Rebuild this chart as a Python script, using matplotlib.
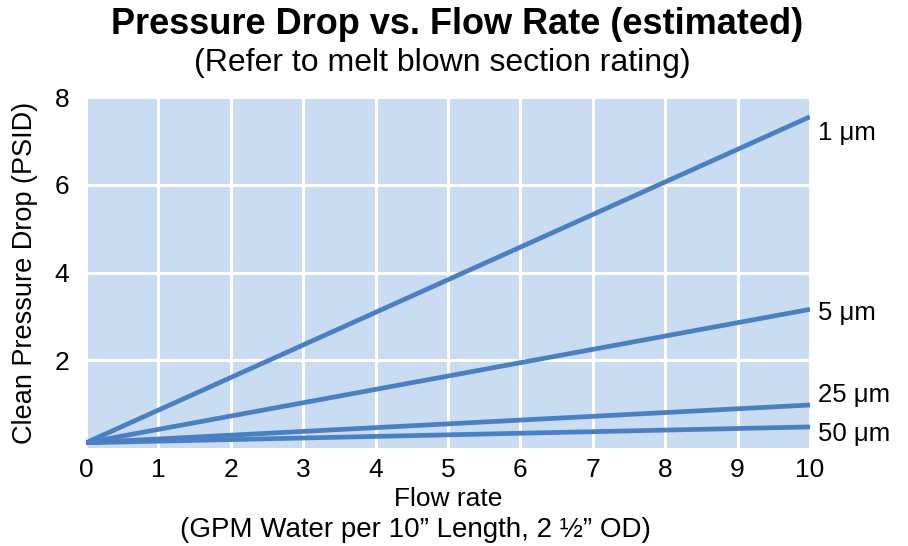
import matplotlib.pyplot as plt
import numpy as np

plt.rcParams['font.family'] = ['Liberation Sans', 'DejaVu Sans']

# data
flow = [0, 10]
sizes = ['1 μm', '5 μm', '25 μm', '50 μm']
drop_1 = [0.12, 7.55]
drop_5 = [0.12, 3.16]
drop_25 = [0.12, 0.98]
drop_50 = [0.12, 0.48]
series = [drop_1, drop_5, drop_25, drop_50]
label_y = [7.17, 3.08, 1.2, 0.33]

xticks = list(range(0, 11))
yticks = [2, 4, 6, 8]

blue = '#4a7fc1'
bg = '#c9dcf1'

fig = plt.figure(figsize=(9.08, 5.46), dpi=100)
ax = fig.add_axes([0.0947, 0.1795, 0.7973, 0.6428])
ax.set_facecolor(bg)

for s in series:
    ax.plot(flow, s, color=blue, lw=3.4, solid_capstyle='butt', zorder=3)

# labels at the right end
for ly, lab in zip(label_y, sizes):
    ax.annotate(lab, xy=(10, ly), xytext=(6, 0), textcoords='offset points',
                ha='left', va='center', fontsize=18.5, annotation_clip=False)

ax.set_xlim(0, 10)
ax.set_ylim(0, 8)
ax.set_xticks(xticks)
ax.set_yticks(yticks)
ax.grid(True, color='white', lw=2.2, zorder=1)
ax.set_axisbelow(True)
for sp in ax.spines.values():
    sp.set_visible(False)
ax.tick_params(length=0, labelsize=19, pad=7)
ax.tick_params(axis='y', pad=12)

ax.set_ylabel('Clean Pressure Drop (PSID)', fontsize=19.5, labelpad=12)
ax.set_xlabel('Flow rate', fontsize=19, labelpad=4)
fig.text(0.458, 0.030, '(GPM Water per 10\u201d Length, 2 \u00bd\u201d OD)',
         ha='center', va='center', fontsize=20)

fig.text(0.5035, 0.956, 'Pressure Drop vs. Flow Rate (estimated)', ha='center', va='center',
         fontsize=26, fontweight='bold')
fig.text(0.487, 0.885, '(Refer to melt blown section rating)', ha='center', va='center',
         fontsize=23)

plt.savefig('out.png', dpi=100)
